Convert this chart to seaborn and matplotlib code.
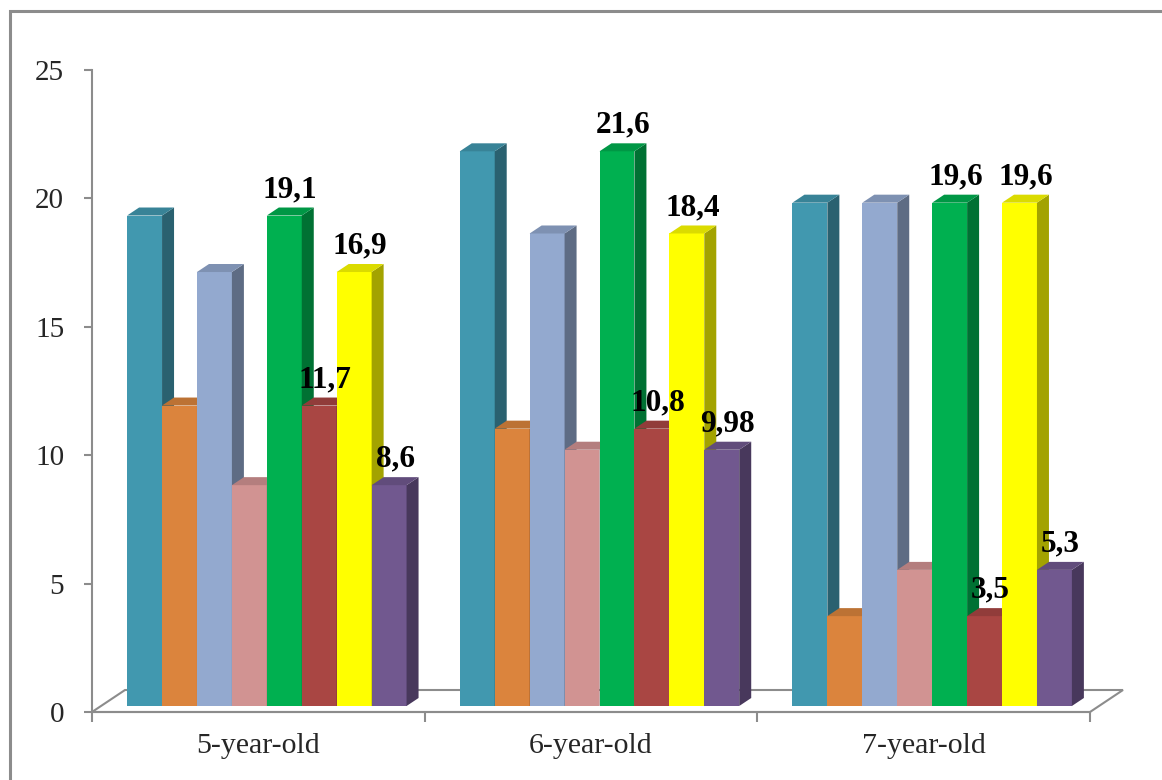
import numpy as np
import pandas as pd
import matplotlib.pyplot as plt
import matplotlib.colors as mcolors
import seaborn as sns
from matplotlib.patches import Polygon, Rectangle
from matplotlib.transforms import offset_copy

ages = ["5-year-old", "6-year-old", "7-year-old"]
series = ["s1", "s2", "s3", "s4", "s5", "s6", "s7", "s8"]
s1 = [19.1, 21.6, 19.6]
s2 = [11.7, 10.8, 3.5]
s3 = [16.9, 18.4, 19.6]
s4 = [8.6, 9.98, 5.3]
s5 = [19.1, 21.6, 19.6]
s6 = [11.7, 10.8, 3.5]
s7 = [16.9, 18.4, 19.6]
s8 = [8.6, 9.98, 5.3]
labelled = ["s5", "s6", "s7", "s8"]
colors = ["#4198AF", "#DB843D", "#93A9CF", "#D19392",
          "#00B050", "#A94643", "#FFFF00", "#71588F"]

vals = [s1, s2, s3, s4, s5, s6, s7, s8]
df = pd.DataFrame([(a, s, v[i]) for s, v in zip(series, vals) for i, a in enumerate(ages)],
                  columns=["age", "series", "value"])

sns.set_theme(style="white")
plt.rcParams['font.family'] = ['Liberation Serif', 'DejaVu Serif']

W, H = 1162, 780
fig = plt.figure(figsize=(W / 100, H / 100), dpi=100)
ax = fig.add_axes([92 / W, 68 / H, 998 / W, 642 / H])

sns.barplot(data=df, x="age", y="value", hue="series", hue_order=series,
            palette=colors, width=0.84, saturation=1, legend=False, ax=ax)

ax.set_xlim(-0.5, 2.5)
ax.set_ylim(0, 25)
ax.set_yticks([0, 5, 10, 15, 20, 25])

# pixel -> data conversions
ppx = 998 / 3
ppy = 642 / 25
dx, dy = 12 / ppx, 8 / ppy
# bars sit a bit into the depth of the floor
off = offset_copy(ax.transData, fig=fig, x=8.5, y=6, units='dots')

def shade(c, f):
    r, g, b = mcolors.to_rgb(c)
    return (r * f, g * f, b * f)

for k, (name, cont) in enumerate(zip(series, ax.containers)):
    col = colors[k]
    for bar in cont:
        x, w, h = bar.get_x(), bar.get_width(), bar.get_height()
        bar.set_transform(off)
        bar.set_zorder(3 + k)
        bar.set_edgecolor("none")
        side = Polygon([(x + w, 0), (x + w + dx, dy), (x + w + dx, h + dy), (x + w, h)],
                       closed=True, facecolor=shade(col, 0.64), edgecolor="none",
                       transform=off, zorder=3 + k)
        top = Polygon([(x, h), (x + dx, h + dy), (x + w + dx, h + dy), (x + w, h)],
                      closed=True, facecolor=shade(col, 0.86), edgecolor="none",
                      transform=off, zorder=3 + k)
        ax.add_patch(side)
        ax.add_patch(top)
        if name in labelled:
            lab = f"{h:g}".replace(".", ",")
            ax.annotate(lab, (x + w / 2 + dx / 2, h + dy), xycoords=off,
                        xytext=(0, 7.5), textcoords="offset points",
                        ha="center", va="baseline", fontsize=22.5,
                        fontweight="bold", color="black", zorder=20)

# floor
fx, fy = 33 / 998, 22 / 642
floor = Polygon([(0, 0), (fx, fy), (1 + fx, fy), (1, 0)], closed=True,
                facecolor="white", edgecolor="#8C8C8C", lw=1.5,
                transform=ax.transAxes, clip_on=False, zorder=1)
ax.add_patch(floor)

gray = "#8C8C8C"
for s in ["top", "right"]:
    ax.spines[s].set_visible(False)
for s in ["left", "bottom"]:
    ax.spines[s].set_color(gray)
    ax.spines[s].set_linewidth(1.5)
    ax.spines[s].set_zorder(2)

ax.set_xticks([-0.5, 0.5, 1.5, 2.5])
ax.set_xticklabels([])
ax.set_xticks([0, 1, 2], minor=True)
ax.set_xticklabels(ages, minor=True)
ax.tick_params(axis="x", which="major", direction="out", length=7, width=1.5,
               color=gray, bottom=True)
ax.tick_params(axis="x", which="minor", length=0, pad=15, labelsize=21.5)
ax.tick_params(axis="y", direction="out", length=6, width=1.5, color=gray,
               left=True, pad=14, labelsize=21)
ax.set_xlabel("")
ax.set_ylabel("")
ax.grid(False)

fig.patches.append(Rectangle((9.5 / W, -0.2), 1.5, 1.2 - 10.5 / H,
                             transform=fig.transFigure, fill=False,
                             edgecolor=gray, lw=2.2))

fig.savefig("out.png", dpi=100)
